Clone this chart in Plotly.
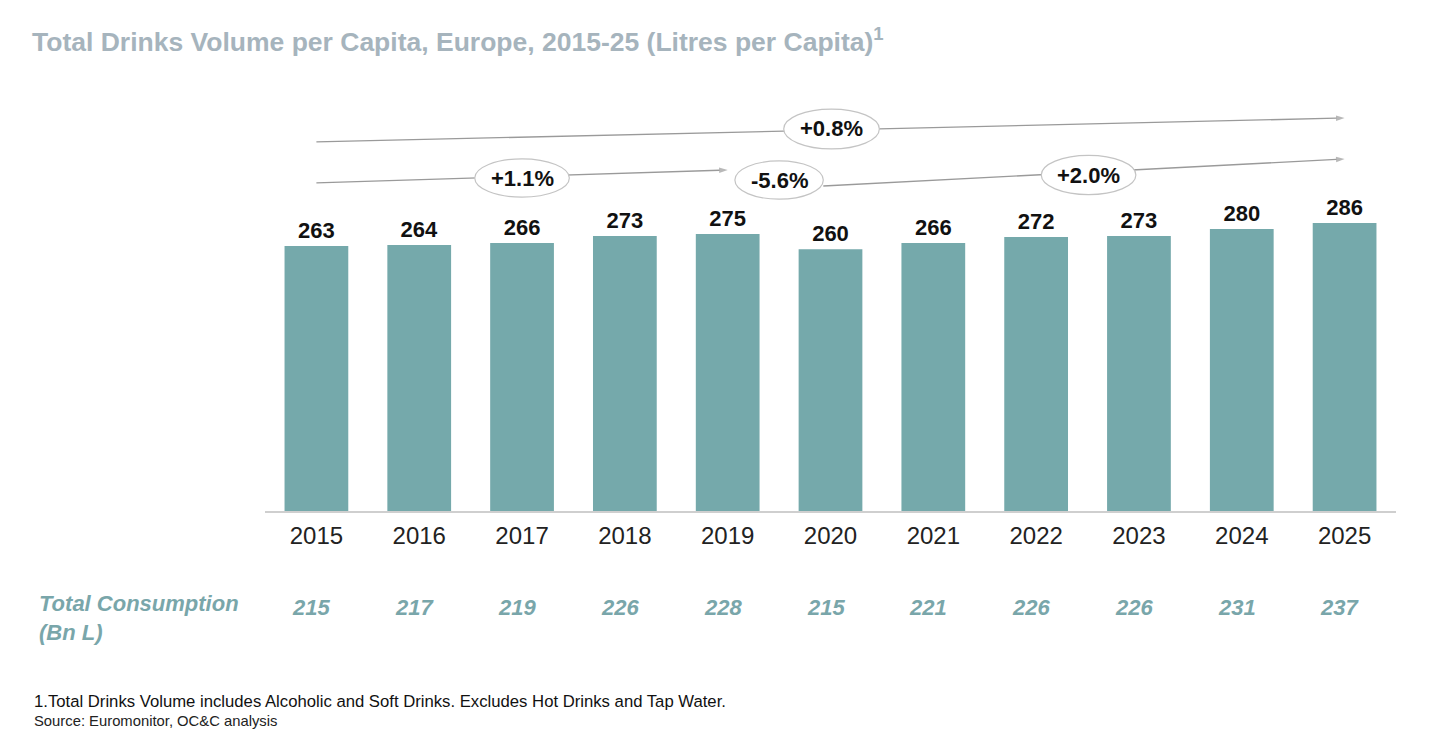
import plotly.graph_objects as go

# ---------------- data ----------------
years = ["2015", "2016", "2017", "2018", "2019", "2020", "2021", "2022", "2023", "2024", "2025"]
per_capita = [263, 264, 266, 273, 275, 260, 266, 272, 273, 280, 286]
total_consumption = [215, 217, 219, 226, 228, 215, 221, 226, 226, 231, 237]

# growth labels
cagr_labels = ["+0.8%", "+1.1%", "-5.6%", "+2.0%"]

TITLE = "Total Drinks Volume per Capita, Europe, 2015-25 (Litres per Capita)<sup>1</sup>"
FOOT1 = "1.Total Drinks Volume includes Alcoholic and Soft Drinks. Excludes Hot Drinks and Tap Water."
FOOT2 = "Source: Euromonitor, OC&C analysis"

# ---------------- style ----------------
FONT = "Liberation Sans, Arial, sans-serif"
BAR_COLOR = "#75A9AB"
TEAL_TEXT = "#79A6AA"
TITLE_COLOR = "#A6B4BD"
LINE_COLOR = "#9A9A9A"
ELLIPSE_LINE = "#C4C4C4"

W, H = 1440, 755
ML, MR, MT, MB = 265, 44, 90, 244
YMAX = 418
N = len(years)
xs = list(range(N))

fig = go.Figure()
fig.add_trace(go.Bar(
    x=xs, y=per_capita,
    marker=dict(color=BAR_COLOR, line=dict(width=0)),
    width=0.62,
    text=[f"<b>{v}</b>" for v in per_capita],
    textposition="outside",
    textfont=dict(family=FONT, size=22, color="#111111"),
    cliponaxis=False,
    hoverinfo="skip",
))

# growth arrows: (x0, y0, x1, y1) in axis units
arrow_lines = [
    (0.0, 366.4, 10.0, 390.2),
    (0.0, 325.7, 4.0, 338.6),
    (4.93, 322.7, 10.0, 349.5),
]
for (x0, y0, x1, y1) in arrow_lines:
    fig.add_trace(go.Scatter(
        x=[x0, x1], y=[y0, y1], mode="lines+markers",
        line=dict(color=LINE_COLOR, width=1.3),
        marker=dict(symbol="arrow", size=[0, 9], angleref="previous",
                    color=LINE_COLOR, line=dict(width=0)),
        hoverinfo="skip", cliponaxis=False,
    ))

shapes = []
annotations = []

# ellipse labels: (center x, center y, half width, half height)
ellipses = [
    (5.01, 379.3, 0.465, 19.8),
    (2.00, 330.6, 0.46, 19.0),
    (4.50, 328.6, 0.43, 19.0),
    (7.51, 333.6, 0.46, 19.5),
]
for lab, (cx, cy, hw, hh) in zip(cagr_labels, ellipses):
    shapes.append(dict(type="circle", xref="x", yref="y",
                       x0=cx - hw, x1=cx + hw, y0=cy - hh, y1=cy + hh,
                       fillcolor="white", line=dict(color=ELLIPSE_LINE, width=1.2),
                       layer="above"))
    annotations.append(dict(xref="x", yref="y", x=cx, y=cy, text=f"<b>{lab}</b>",
                            showarrow=False, xanchor="center", yanchor="middle",
                            font=dict(family=FONT, size=22, color="#111111")))

# total consumption row
for i, v in enumerate(total_consumption):
    annotations.append(dict(xref="paper", yref="paper", x=(i + 0.5) / N,
                            y=-(607 - 511) / (511 - MT),
                            xanchor="center", yanchor="middle",
                            text=f"<b><i>{v}</i></b>", showarrow=False, xshift=-5,
                            font=dict(family=FONT, size=22, color=TEAL_TEXT)))

page_annots = [
    dict(text="<b><i>Total Consumption<br>(Bn L)</i></b>", x=37, y=589, size=22,
         color=TEAL_TEXT, align="left"),
    dict(text=FOOT1, x=32, y=690, size=16.7, color="#111111", align="left"),
    dict(text=FOOT2, x=32, y=711, size=14.8, color="#222222", align="left"),
]
for a in page_annots:
    annotations.append(dict(
        xref="paper", yref="paper",
        x=(a["x"] - ML) / (W - ML - MR),
        y=(H - MB - a["y"]) / (H - MB - MT),
        xanchor="left", yanchor="top", align=a["align"], showarrow=False,
        text=a["text"], font=dict(family=FONT, size=a["size"], color=a["color"]),
    ))

fig.update_layout(
    width=W, height=H,
    margin=dict(l=ML, r=MR, t=MT, b=MB, pad=0),
    paper_bgcolor="white", plot_bgcolor="white",
    showlegend=False,
    title=dict(text=f"<b>{TITLE}</b>", x=32 / W, xanchor="left", y=1 - 42 / H, yanchor="middle",
               font=dict(family=FONT, size=26.5, color=TITLE_COLOR)),
    xaxis=dict(range=[-0.5, N - 0.5], showgrid=False, zeroline=False,
               tickmode="array", tickvals=xs, ticktext=years,
               showline=True, linecolor="#CFCFCF", linewidth=2,
               ticks="", tickfont=dict(family=FONT, size=24, color="#222222"),
               ticklabelstandoff=2),
    yaxis=dict(range=[0, YMAX], visible=False, showgrid=False, zeroline=False),
    shapes=shapes,
    annotations=annotations,
    font=dict(family=FONT),
)

fig.write_html("out.html")
